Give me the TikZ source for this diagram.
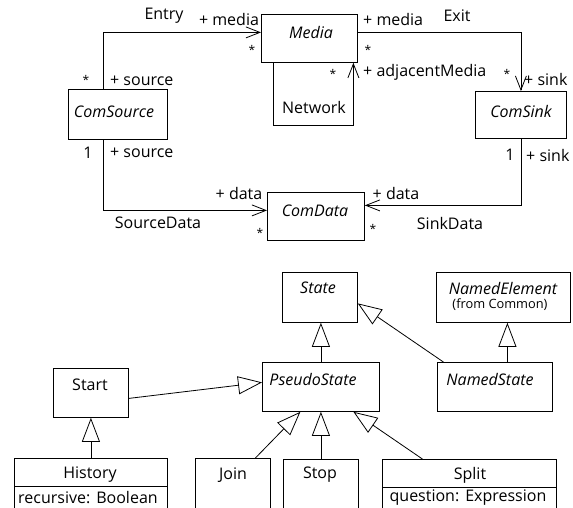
\documentclass[tikz,border=0pt]{standalone}
\usepackage{fontspec}
\setmainfont{Open Sans}
\usetikzlibrary{arrows.meta,calc}
\begin{document}
\begin{tikzpicture}[x=1pt,y=-1pt,
  every node/.style={font=\fontsize{16}{18}\selectfont},
  box/.style={draw, line width=0.8pt, inner sep=0pt, anchor=north west},
  lbl/.style={inner sep=0pt},
  ilbl/.style={inner sep=0pt, font=\fontsize{16}{18}\selectfont\itshape},
  small/.style={inner sep=0pt, font=\fontsize{12.8}{14}\selectfont},
  mult/.style={inner sep=0pt, font=\fontsize{12}{14}\selectfont},
  plain/.style={line width=0.8pt},
  assoc/.style={line width=0.8pt, -{Straight Barb[length=14pt,width=11pt]}},
  gen/.style={line width=0.8pt, -{Triangle[open,length=24pt,width=18pt]}},
]
\useasboundingbox (0,0) rectangle (573,508);
\clip (0,0) rectangle (573,508);

% ---------- communication model ----------
\node[box, minimum width=96pt, minimum height=48pt] (media)  at (261,14)  {};
\node[box, minimum width=99pt, minimum height=50pt] (csrc)   at (68,89)   {};
\node[box, minimum width=91pt, minimum height=47pt] (csink)  at (475,91)  {};
\node[box, minimum width=97pt, minimum height=48pt] (cdata)  at (267,192) {};

\node[ilbl] at (311,33)  {Media};
\node[ilbl] at (114,112) {ComSource};
\node[ilbl] at (521,112) {ComSink};
\node[ilbl] at (315,211) {ComData};

% Entry
\draw[assoc] ($(csrc.north)+(-15,0)$) |- ($(media.west)+(0,-6)$);
\node[lbl] at (164,16) {Entry};
\node[lbl] at (229,20) {+ media};
\node[mult] at (252,50) {*};
\node[mult] at (86,80) {*};
\node[lbl, anchor=west] at (110,81) {+ source};

% Exit
\draw[assoc] ($(media.east)+(0,-6)$) -| (csink.north);
\node[lbl] at (457,16) {Exit};
\node[lbl, anchor=west] at (363,20) {+ media};
\node[mult] at (368,50) {*};
\node[mult] at (507,74) {*};
\node[lbl, anchor=west] at (524,80) {+ sink};

% Network
\draw[assoc] ($(media.south)+(-36,0)$) -- ++(0,63) -| ($(media.south)+(44,0)$);
\node[lbl] at (314,108) {Network};
\node[mult] at (333,74) {*};
\node[lbl, anchor=west] at (363,72) {+ adjacentMedia};

% SourceData
\draw[assoc] ($(csrc.south)+(-15,0)$) |- ($(cdata.west)+(0,-6)$);
\node[lbl] at (88,153) {1};
\node[lbl, anchor=west] at (110,153) {+ source};
\node[lbl] at (239,193) {+ data};
\node[lbl] at (158,223) {SourceData};
\node[mult] at (260,233) {*};

% SinkData
\draw[assoc] (csink.south) |- ($(cdata.east)+(0,-11)$);
\node[lbl] at (510,155) {1};
\node[lbl, anchor=west] at (526,155) {+ sink};
\node[lbl] at (396,193) {+ data};
\node[lbl] at (450,223) {SinkData};
\node[mult] at (373,229) {*};

% ---------- state hierarchy ----------
\node[box, minimum width=75pt,  minimum height=50pt] (state)  at (282,272) {};
\node[box, minimum width=134pt, minimum height=50pt] (nelem)  at (436,272) {};
\node[box, minimum width=117pt, minimum height=49pt] (pseudo) at (262,362) {};
\node[box, minimum width=115pt, minimum height=49pt] (nstate) at (437,362) {};
\node[box, minimum width=75pt,  minimum height=49pt] (start)  at (53,368)  {};
\node[box, minimum width=153pt, minimum height=70pt] (hist)   at (14,458)  {};
\node[box, minimum width=75pt,  minimum height=70pt] (join)   at (195,458) {};
\node[box, minimum width=75pt,  minimum height=70pt] (stop)   at (283,459) {};
\node[box, minimum width=174pt, minimum height=70pt] (split)  at (382,459) {};

\draw[plain] ($(hist.north west)+(0,28)$) -- ($(hist.north east)+(0,28)$);
\draw[plain] ($(split.north west)+(0,28)$) -- ($(split.north east)+(0,28)$);

\node[ilbl] at (318,288) {State};
\node[ilbl] at (503,288) {NamedElement};
\node[small] at (500,305) {(from Common)};
\node[ilbl] at (313,379) {PseudoState};
\node[ilbl] at (490,379) {NamedState};
\node[lbl] at (90,385) {Start};
\node[lbl] at (90,475) {History};
\node[lbl] at (88,498) {recursive:\hspace{6pt}Boolean};
\node[lbl] at (233,475) {Join};
\node[lbl] at (320,475) {Stop};
\node[lbl] at (470,475) {Split};
\node[lbl] at (468,498) {question:\hspace{6pt}Expression};

% generalizations
\coordinate (nsTop) at ($(nstate.north)+(12.5,0)$);
\draw[gen] (pseudo.north) -- (pseudo.north |- state.south);
\draw[gen] ($(nstate.north)+(-51.5,0)$) -- ($(state.east)+(0,6)$);
\draw[gen] (nsTop) -- (nsTop |- nelem.south);
\draw[gen] (hist.north) -- (start.south);
\draw[gen] ($(start.east)+(0,5.5)$) -- ($(pseudo.west)+(0,-4.5)$);
\draw[gen] ($(join.north)+(22.5,0)$) -- ($(pseudo.south)+(-20.5,0)$);
\draw[gen] (stop.north) -- (stop.north |- pseudo.south);
\draw[gen] ($(split.north)+(-47,0)$) -- ($(pseudo.south)+(32.5,0)$);
\end{tikzpicture}
\end{document}
